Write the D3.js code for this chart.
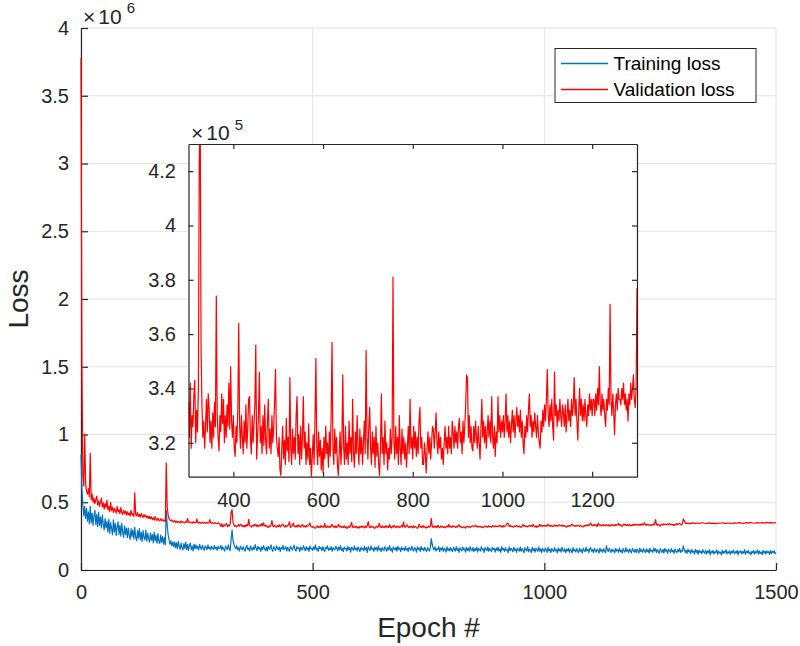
<!DOCTYPE html>
<html>
<head>
<meta charset="utf-8">
<script src="https://cdn.jsdelivr.net/npm/d3@7"></script>
<style>
  html, body { margin: 0; padding: 0; background: #fff; }
  svg { display: block; font-family: "Liberation Sans", Arial, Helvetica, sans-serif; }
</style>
</head>
<body>
<svg id="chart" width="800" height="646"></svg>
<script>
// ---- Data (loss values in thousands) ----
// Training loss, epochs 0..298, every 2 epochs
const trainingEarly = [
  850, 600, 480, 400, 470, 380, 455, 360, 430, 340, 470, 350, 420, 330, 400, 440, 335, 410, 320, 425, 330, 390, 310, 405, 340,
  295, 380, 310, 360, 280, 375, 270, 350, 305, 260, 370, 280, 345, 255, 320, 355, 262, 330, 250, 345, 275, 240, 325, 262, 310,
  238, 310, 255, 225, 305, 248, 295, 230, 315, 242, 215, 290, 235, 305, 222, 280, 210, 290, 240, 222, 295, 212, 272, 232, 205,
  275, 220, 262, 200, 280, 215, 255, 198, 268, 210, 195, 258, 205, 248, 190, 240, 185, 440, 330, 262, 225, 190, 215, 178, 205,
  172, 208, 165, 200, 158, 212, 175, 152, 198, 165, 148, 195, 160, 205, 150, 190, 145, 182, 198, 150, 176, 140, 192, 155, 185,
  158, 175, 148, 190, 165, 152, 182, 160, 145, 178, 168, 150, 185, 158, 170, 148, 176, 162, 150, 182, 158, 168, 145, 175, 160
];
// Training loss, epochs 300..1500, every 2 epochs
const trainingLate = [
  160, 182, 148, 170, 155, 140, 178, 162, 150, 185, 158, 142, 230, 295, 220, 190, 172, 158, 180, 150, 165, 140, 175, 160, 148,
  172, 155, 138, 168, 182, 150, 162, 140, 176, 158, 145, 170, 152, 188, 160, 142, 175, 155, 165, 138, 170, 150, 180, 158, 145,
  168, 140, 175, 152, 162, 185, 150, 138, 172, 158, 145, 178, 160, 150, 170, 135, 165, 155, 182, 148, 160, 172, 140, 168, 152,
  138, 175, 160, 148, 168, 182, 150, 140, 172, 158, 165, 135, 170, 155, 148, 180, 160, 142, 172, 150, 165, 138, 176, 155, 162,
  145, 170, 152, 185, 148, 160, 138, 175, 158, 165, 142, 172, 150, 135, 168, 158, 178, 145, 160, 150, 172, 138, 165, 155, 148,
  175, 160, 142, 168, 152, 180, 145, 158, 136, 170, 155, 162, 140, 175, 150, 165, 132, 168, 158, 145, 178, 150, 162, 140, 170,
  155, 135, 168, 150, 160, 142, 175, 148, 165, 130, 172, 155, 145, 178, 152, 162, 138, 170, 150, 165, 140, 176, 148, 158, 135,
  168, 152, 142, 172, 160, 138, 165, 150, 180, 145, 158, 132, 170, 155, 148, 168, 140, 175, 152, 162, 136, 170, 150, 158, 142,
  172, 148, 160, 135, 168, 155, 145, 176, 150, 140, 165, 158, 132, 170, 152, 162, 138, 174, 148, 158, 142, 168, 150, 135, 165,
  152, 140, 165, 232, 190, 162, 148, 170, 140, 158, 150, 172, 135, 162, 148, 168, 138, 160, 152, 132, 170, 145, 158, 140, 165,
  148, 135, 168, 152, 140, 172, 145, 158, 130, 165, 150, 140, 170, 148, 155, 132, 168, 145, 160, 138, 172, 150, 142, 165, 135,
  158, 145, 168, 132, 160, 150, 140, 172, 148, 155, 130, 165, 152, 142, 170, 138, 160, 148, 135, 168, 150, 158, 132, 162, 145,
  168, 140, 155, 130, 172, 148, 158, 136, 165, 145, 150, 128, 170, 142, 160, 150, 135, 168, 145, 155, 130, 162, 148, 140, 170,
  138, 158, 145, 128, 165, 150, 140, 172, 135, 155, 145, 130, 168, 142, 158, 132, 162, 148, 138, 170, 140, 155, 128, 160, 145,
  135, 162, 148, 130, 168, 140, 155, 128, 158, 145, 135, 165, 142, 150, 126, 162, 140, 155, 132, 168, 145, 138, 158, 128, 150,
  142, 160, 130, 155, 145, 126, 165, 140, 150, 132, 158, 142, 128, 162, 138, 150, 125, 160, 145, 135, 168, 140, 152, 128, 158,
  165, 138, 150, 128, 160, 142, 132, 155, 145, 125, 162, 138, 150, 130, 158, 140, 128, 178, 150, 135, 160, 142, 130, 155, 138,
  148, 126, 160, 140, 150, 130, 162, 135, 145, 125, 158, 142, 132, 165, 138, 150, 128, 155, 140, 126, 160, 145, 132, 152, 128,
  155, 140, 125, 162, 138, 148, 130, 158, 142, 128, 155, 135, 150, 125, 160, 138, 145, 130, 162, 140, 158, 128, 150, 136, 125,
  158, 142, 130, 152, 125, 160, 138, 148, 122, 155, 140, 130, 158, 135, 145, 122, 155, 138, 128, 150, 135, 160, 130, 145, 138,
  178, 150, 130, 145, 122, 155, 135, 142, 120, 150, 132, 140, 118, 152, 130, 145, 115, 148, 128, 138, 120, 150, 132, 125, 145,
  118, 140, 128, 150, 112, 138, 125, 145, 118, 135, 128, 148, 115, 140, 125, 132, 112, 145, 122, 138, 128, 150, 118, 135, 125,
  142, 115, 138, 128, 148, 120, 135, 125, 145, 112, 138, 130, 142, 118, 135, 125, 150, 115, 138, 128, 145, 120, 132, 112, 140,
  125, 145, 118, 135, 128, 148, 115, 140, 122, 132, 112, 145, 125, 138, 118, 142, 128, 135, 115, 145, 122, 138, 128, 142, 120,
  128
];

// Validation loss, epochs 0..298, every 2 epochs
const validationEarly = [
  3780, 1500, 700, 620, 1000, 640, 580, 560, 600, 540, 860, 520, 560, 500, 530, 490, 520, 545, 480, 510, 470, 500, 530, 465, 495,
  450, 490, 460, 515, 445, 470, 430, 500, 440, 465, 425, 455, 435, 420, 470, 430, 445, 415, 460, 425, 410, 440, 418, 435, 405,
  430, 408, 420, 398, 440, 405, 415, 395, 570, 410, 400, 425, 395, 410, 390, 418, 398, 388, 410, 392, 402, 385, 398, 380, 395,
  378, 392, 372, 385, 368, 395, 375, 365, 382, 370, 362, 378, 366, 372, 360, 368, 358, 790, 470, 405, 380, 368, 362, 370, 358,
  355, 364, 352, 360, 350, 358, 354, 348, 362, 352, 356, 350, 348, 358, 352, 380, 355, 348, 354, 350, 346, 356, 350, 352, 348,
  376, 350, 346, 354, 348, 345, 352, 347, 350, 344, 348, 352, 345, 350, 372, 348, 344, 350, 346, 343, 349, 345, 342, 348, 344
];
// Validation loss, epochs 300..1300, every 2 epochs (the zoomed inset)
const validationInset = [
  335, 322, 342, 318, 330, 326, 338, 343, 320, 332, 324, 340, 424, 445, 355, 334, 322, 328, 318, 326, 336, 324, 338, 333, 320,
  328, 318, 331, 322, 335, 326, 374, 330, 322, 317, 330, 324, 338, 327, 336, 320, 330, 322, 334, 326, 342, 325, 348, 328, 322,
  330, 318, 315, 326, 320, 333, 364, 326, 318, 330, 322, 316, 328, 320, 334, 318, 325, 336, 337, 322, 316, 330, 320, 327, 334,
  356, 314, 322, 330, 346, 320, 326, 316, 330, 319, 334, 321, 316, 328, 336, 318, 325, 316, 330, 320, 326, 335, 347, 322, 318,
  315, 322, 310, 308, 318, 326, 314, 321, 312, 329, 317, 322, 313, 344, 318, 312, 325, 316, 322, 314, 330, 337, 316, 323, 312,
  326, 314, 322, 337, 318, 324, 312, 320, 314, 327, 312, 318, 307, 315, 323, 312, 328, 351, 318, 312, 324, 315, 321, 310, 318,
  309, 322, 314, 326, 316, 320, 311, 324, 315, 330, 357, 318, 312, 325, 316, 322, 312, 308, 316, 324, 312, 320, 345, 318, 312,
  326, 314, 320, 312, 328, 316, 322, 313, 336, 316, 311, 324, 316, 330, 318, 312, 325, 316, 322, 312, 320, 328, 316, 354, 322,
  314, 326, 333, 318, 312, 324, 316, 322, 311, 326, 315, 320, 312, 308, 318, 338, 316, 322, 312, 328, 316, 320, 310, 318, 314,
  325, 316, 322, 381, 320, 314, 326, 316, 322, 312, 330, 318, 312, 325, 316, 322, 314, 320, 311, 318, 326, 316, 336, 318, 322,
  314, 326, 318, 324, 315, 322, 316, 328, 333, 318, 322, 312, 312, 320, 316, 309, 318, 324, 316, 322, 314, 320, 326, 325, 318,
  324, 331, 320, 316, 324, 318, 322, 314, 318, 312, 320, 326, 318, 322, 316, 326, 318, 322, 316, 328, 324, 318, 326, 320, 324,
  318, 326, 329, 320, 324, 316, 328, 320, 326, 334, 345, 344, 322, 330, 320, 326, 318, 317, 326, 320, 328, 322, 318, 326, 320,
  314, 325, 336, 322, 328, 320, 326, 318, 324, 330, 322, 328, 320, 337, 322, 318, 326, 315, 324, 320, 337, 324, 330, 322, 328,
  324, 330, 322, 328, 338, 324, 330, 322, 328, 320, 326, 332, 324, 330, 322, 328, 333, 326, 330, 324, 332, 322, 328, 320, 316,
  326, 322, 330, 324, 332, 338, 326, 330, 322, 328, 324, 331, 326, 322, 330, 324, 320, 318, 328, 324, 332, 326, 334, 328, 336,
  347, 330, 326, 334, 328, 336, 326, 321, 346, 330, 334, 326, 332, 328, 336, 330, 326, 334, 331, 326, 334, 324, 330, 336, 328,
  332, 326, 336, 330, 334, 344, 330, 336, 328, 321, 332, 340, 330, 336, 328, 334, 328, 336, 330, 326, 334, 330, 338, 332, 336,
  330, 336, 336, 330, 338, 332, 340, 334, 348, 334, 330, 338, 332, 336, 330, 326, 336, 332, 340, 334, 371, 336, 330, 338, 332,
  323, 334, 338, 332, 340, 336, 336, 334, 340, 336, 342, 334, 338, 332, 336, 328, 338, 334, 342, 336, 340, 345, 336, 333, 340,
  377
];
// Validation loss, epochs 1305..1500, every 5 epochs
const validationLate = [
  344, 346, 342, 348, 344, 347, 343, 349, 345, 343,
  348, 344, 346, 342, 347, 345, 349, 344, 347, 345,
  343, 348, 345, 350, 346, 344, 349, 346, 351, 347,
  345, 350, 347, 349, 346, 351, 348, 350, 347, 350
];

const seriesNames = ["Training loss", "Validation loss"];
const seriesColors = ["#0072BD", "#FF0000"];
const mainXTicks = [0, 500, 1000, 1500];
const mainYTicks = [0, 0.5, 1, 1.5, 2, 2.5, 3, 3.5, 4];     // x 10^6
const insetXTicks = [400, 600, 800, 1000, 1200];
const insetYTicks = [3.2, 3.4, 3.6, 3.8, 4, 4.2];            // x 10^5
const mainXDomain = [0, 1500], mainYDomain = [0, 4];
const insetXDomain = [300, 1300], insetYDomain = [3.075, 4.3];

// ---- Build series (epoch, value) ----
const trainPts = [
  ...trainingEarly.map((v, i) => ({ e: i * 2, v })),
  ...trainingLate.map((v, i) => ({ e: 300 + i * 2, v }))
];
const valPts = [
  ...validationEarly.map((v, i) => ({ e: i * 2, v })),
  ...validationInset.map((v, i) => ({ e: 300 + i * 2, v })),
  ...validationLate.map((v, i) => ({ e: 1305 + i * 5, v }))
];
const trainMain = trainPts.map(d => ({ e: d.e, v: d.v / 1000 }));
const valMain = valPts.map(d => ({ e: d.e, v: d.v / 1000 }));
const valInset = valPts.filter(d => d.e >= insetXDomain[0] && d.e <= insetXDomain[1])
  .map(d => ({ e: d.e, v: d.v / 100 }));

const svg = d3.select("#chart");
const axisColor = "#262626";
const gridColor = "#e3e3e3";
const FONT = "'Liberation Sans', Arial, Helvetica, sans-serif";

// main area
const M = { l: 81, r: 776, t: 28, b: 570 };
const x = d3.scaleLinear(mainXDomain, [M.l, M.r]);
const y = d3.scaleLinear(mainYDomain, [M.b, M.t]);

const defs = svg.append("defs");
defs.append("clipPath").attr("id", "clipMain").append("rect")
  .attr("x", M.l - 2).attr("y", M.t - 2).attr("width", M.r - M.l + 4).attr("height", M.b - M.t + 2);

// grid
const grid = svg.append("g");
grid.selectAll(".gx").data(mainXTicks).join("line")
  .attr("x1", d => x(d)).attr("x2", d => x(d)).attr("y1", M.t).attr("y2", M.b)
  .attr("stroke", gridColor).attr("stroke-width", 1);
grid.selectAll(".gy").data(mainYTicks).join("line")
  .attr("x1", M.l).attr("x2", M.r).attr("y1", d => y(d)).attr("y2", d => y(d))
  .attr("stroke", gridColor).attr("stroke-width", 1);

// axes
function styleAxis(g, fs) {
  g.select(".domain").attr("stroke", axisColor).attr("stroke-width", 1.2);
  g.selectAll(".tick line").attr("stroke", axisColor).attr("stroke-width", 1.2);
  g.selectAll(".tick text").attr("fill", axisColor).attr("font-size", fs).attr("font-family", FONT);
}
const fmt = d => String(d);
const gxMain = svg.append("g").attr("transform", `translate(0,${M.b})`)
  .call(d3.axisBottom(x).tickValues(mainXTicks).tickFormat(fmt).tickSizeInner(-7).tickSizeOuter(0).tickPadding(15));
styleAxis(gxMain, 20);
const gyMain = svg.append("g").attr("transform", `translate(${M.l},0)`)
  .call(d3.axisLeft(y).tickValues(mainYTicks).tickFormat(fmt).tickSizeInner(-7).tickSizeOuter(0).tickPadding(12));
styleAxis(gyMain, 20);

// lines (drawn above the axes)
const lineMain = d3.line().x(d => x(d.e)).y(d => y(d.v));
const gl = svg.append("g").attr("clip-path", "url(#clipMain)");
gl.append("path").datum(trainMain).attr("d", lineMain).attr("fill", "none")
  .attr("stroke", seriesColors[0]).attr("stroke-width", 1.2).attr("stroke-linejoin", "round");
gl.append("path").datum(valMain).attr("d", lineMain).attr("fill", "none")
  .attr("stroke", seriesColors[1]).attr("stroke-width", 1.2).attr("stroke-linejoin", "round");

// exponent label main
const exp6 = svg.append("text").attr("x", 83).attr("y", 23.5).attr("fill", axisColor).attr("font-size", 21);
exp6.append("tspan").text("×");
exp6.append("tspan").attr("dx", 3).text("10");
exp6.append("tspan").attr("dx", 5).attr("dy", -11).attr("font-size", 15).text("6");

// axis labels
svg.append("text").attr("x", (M.l + M.r) / 2).attr("y", 637).attr("text-anchor", "middle")
  .attr("font-size", 28).attr("fill", axisColor).text("Epoch #");
svg.append("text").attr("transform", `translate(28,${(M.t + M.b) / 2}) rotate(-90)`)
  .attr("text-anchor", "middle").attr("font-size", 28).attr("fill", axisColor).text("Loss");

// legend
const lg = svg.append("g");
lg.append("rect").attr("x", 555).attr("y", 48.5).attr("width", 201).attr("height", 54)
  .attr("fill", "#fff").attr("stroke", axisColor).attr("stroke-width", 1);
seriesNames.forEach((n, i) => {
  const ly = 63.5 + i * 26;
  lg.append("line").attr("x1", 561).attr("x2", 608).attr("y1", ly).attr("y2", ly)
    .attr("stroke", seriesColors[i]).attr("stroke-width", 1.3);
  lg.append("text").attr("x", 613.5).attr("y", ly).attr("dy", "0.35em")
    .attr("font-size", 19).attr("fill", "#000").text(n);
});

// ---- inset ----
const I = { l: 188.5, r: 637, t: 144, b: 476.7 };
const xi = d3.scaleLinear(insetXDomain, [I.l, I.r]);
const yi = d3.scaleLinear(insetYDomain, [I.b, I.t]);
defs.append("clipPath").attr("id", "clipInset").append("rect")
  .attr("x", I.l).attr("y", I.t).attr("width", I.r - I.l).attr("height", I.b - I.t);

svg.append("rect").attr("x", I.l).attr("y", I.t).attr("width", I.r - I.l).attr("height", I.b - I.t)
  .attr("fill", "#fff");
const lineInset = d3.line().x(d => xi(d.e)).y(d => yi(d.v));
svg.append("g").attr("clip-path", "url(#clipInset)")
  .append("path").datum(valInset).attr("d", lineInset).attr("fill", "none")
  .attr("stroke", seriesColors[1]).attr("stroke-width", 1.2).attr("stroke-linejoin", "round");

const gxi = svg.append("g").attr("transform", `translate(0,${I.b})`)
  .call(d3.axisBottom(xi).tickValues(insetXTicks).tickFormat(fmt).tickSizeInner(-5).tickSizeOuter(0).tickPadding(16));
styleAxis(gxi, 20);
const gxt = svg.append("g").attr("transform", `translate(0,${I.t})`)
  .call(d3.axisTop(xi).tickValues(insetXTicks).tickFormat("").tickSizeInner(-5).tickSizeOuter(0));
styleAxis(gxt, 20);
const gyi = svg.append("g").attr("transform", `translate(${I.l},0)`)
  .call(d3.axisLeft(yi).tickValues(insetYTicks).tickFormat(fmt).tickSizeInner(-5).tickSizeOuter(0).tickPadding(12.5));
styleAxis(gyi, 20);
const gyr = svg.append("g").attr("transform", `translate(${I.r},0)`)
  .call(d3.axisRight(yi).tickValues(insetYTicks).tickFormat("").tickSizeInner(-5).tickSizeOuter(0));
styleAxis(gyr, 20);

const exp5 = svg.append("text").attr("x", 191).attr("y", 139.5).attr("fill", axisColor).attr("font-size", 21);
exp5.append("tspan").text("×");
exp5.append("tspan").attr("dx", 3).text("10");
exp5.append("tspan").attr("dx", 5).attr("dy", -10).attr("font-size", 15).text("5");
</script>
</body>
</html>
